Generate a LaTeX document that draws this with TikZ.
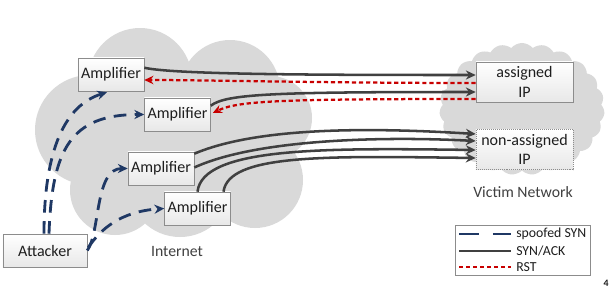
\documentclass[tikz,border=0pt]{standalone}
\usepackage{fontspec}
\setmainfont{Carlito}
\usetikzlibrary{arrows.meta,positioning,calc,shapes.symbols}
\definecolor{cCloud}{RGB}{217,217,217}
\definecolor{cBorder}{RGB}{140,140,140}
\definecolor{cBoxLow}{RGB}{232,232,232}
\definecolor{cText}{RGB}{30,30,30}
\definecolor{cLabel}{RGB}{64,64,64}
\definecolor{cNavy}{RGB}{31,56,100}
\definecolor{cAck}{RGB}{64,64,64}
\definecolor{cRst}{RGB}{200,0,0}
\tikzset{
  ampbox/.style={rectangle,draw=cBorder,top color=white,bottom color=cBoxLow,
                 minimum width=1.65cm,minimum height=0.825cm,inner sep=1pt,
                 font=\fontsize{11.4}{14}\selectfont,text=cText},
  ipbox/.style={ampbox,minimum width=2.425cm,minimum height=1cm,align=center},
  freebox/.style={ipbox,densely dotted},
  netlabel/.style={font=\fontsize{11.2}{13}\selectfont,text=cLabel},
  keylabel/.style={anchor=west,inner sep=0pt,font=\fontsize{9.8}{11}\selectfont,text=cText},
  synarr/.style={->,>={Stealth[length=7pt,width=6.5pt]},line width=2pt,color=cNavy,
                 dash pattern=on 9pt off 6pt},
  ackarr/.style={->,>={Stealth[length=7pt,width=6.5pt]},line width=1.8pt,color=cAck},
  rstarr/.style={->,>={Stealth[length=6.5pt,width=6pt]},line width=1.6pt,color=cRst,
                 dash pattern=on 3pt off 2pt}
}
\begin{document}
\begin{tikzpicture}[x=0.025cm,y=-0.025cm]
  \useasboundingbox[fill=white] (0,0) rectangle (612,290);

  % clouds
  \fill[cCloud] (140,80) circle (52) (230,90) circle (50) (270,118) circle (42)
    (90,130) circle (55) (115,190) circle (45) (180,185) circle (52)
    (255,180) circle (48) (180,130) circle (60) (150,150) circle (60);
  \node[cloud,cloud puffs=23,cloud puff arc=100,cloud ignores aspect,fill=cCloud,
        minimum width=4.125cm,minimum height=3.3cm] (vcloud) at (522,109) {};

  % hosts
  \node[ampbox] (amp1) at (111,74.5) {Amplifier};
  \node[ampbox] (amp2) at (177.5,114.5) {Amplifier};
  \node[ampbox] (amp3) at (161,168.5) {Amplifier};
  \node[ampbox] (amp4) at (197.5,208.5) {Amplifier};
  \node[ampbox,minimum width=2.1cm] (attacker) at (45,250.5) {Attacker};
  \node[ipbox] (used) at (524.5,82) {assigned\\IP};
  \node[freebox] (free) at (524.5,149.5) {non-assigned\\IP};

  \node[netlabel] (inet) at (177,252) {Internet};
  \node[netlabel] (victim) at (523,192) {Victim Network};

  % spoofed SYN
  \draw[synarr] ($(attacker.north)+(-1,0)$) .. controls +(0,-84) and +(-42,13) .. ($(amp1.south)+(-4,1)$);
  \draw[synarr] ($(attacker.north)+(4,0)$) .. controls +(3,-84) and +(-74,0) .. (amp2.west);
  \draw[synarr] (attacker.east) .. controls +(13,-18) and +(-33,0) .. (amp3.west);
  \draw[synarr] ($(attacker.east)+(1,-3)$) .. controls +(12,-18) and +(-44,3) .. (amp4.west);

  % SYN/ACK
  \draw[ackarr] ($(amp1.north east)+(0,10)$) .. controls +(30,7) and +(-150,0) .. ($(used.west)+(0,-7)$);
  \draw[ackarr] ($(amp2.north east)+(0,8)$) .. controls +(15,-12) and +(-200,0) .. ($(used.west)+(0,10)$);
  \draw[ackarr] ($(amp3.north east)+(0,2)$) .. controls +(66,-28) and +(-96,-6) .. ($(free.west)+(0,-15.5)$);
  \draw[ackarr] ($(amp3.east)+(0,-1)$) .. controls +(61,-28) and +(-96,-5) .. ($(free.west)+(0,-8.5)$);
  \draw[ackarr] ($(amp4.north)+(0,0)$) .. controls +(5,-45) and +(-150,-2) .. ($(free.west)+(0,0.5)$);
  \draw[ackarr] ($(amp4.north)+(26,0)$) .. controls +(5,-38) and +(-150,-2) .. ($(free.west)+(0,8.5)$);

  % RST
  \draw[rstarr] ($(used.west)+(0,1)$) .. controls +(-150,0) and +(60,0) .. ($(amp1.east)+(0,5.5)$);
  \draw[rstarr] ($(used.west)+(0,17)$) .. controls +(-200,0) and +(25,-12) .. ($(amp2.east)+(2,-1.5)$);

  % key
  \node[draw=cBorder,fill=white,minimum width=3.375cm,minimum height=1.25cm] (key) at (522.5,250) {};
  \draw[line width=2pt,color=cNavy,dash pattern=on 14pt off 10pt] (459,234) -- (511,234);
  \draw[line width=1.8pt,color=cAck] (459,251) -- (511,251);
  \draw[line width=1.6pt,color=cRst,dash pattern=on 3pt off 2pt] (459,267) -- (511,267);
  \node[keylabel] (k1) at (516,234) {spoofed SYN};
  \node[keylabel] (k2) at (516,251) {SYN/ACK};
  \node[keylabel] (k3) at (516,267) {RST};

  \node[font=\fontsize{7}{8}\selectfont\bfseries,text=cText,inner sep=0pt] (pagenum) at (606,283) {4};
\end{tikzpicture}
\end{document}
